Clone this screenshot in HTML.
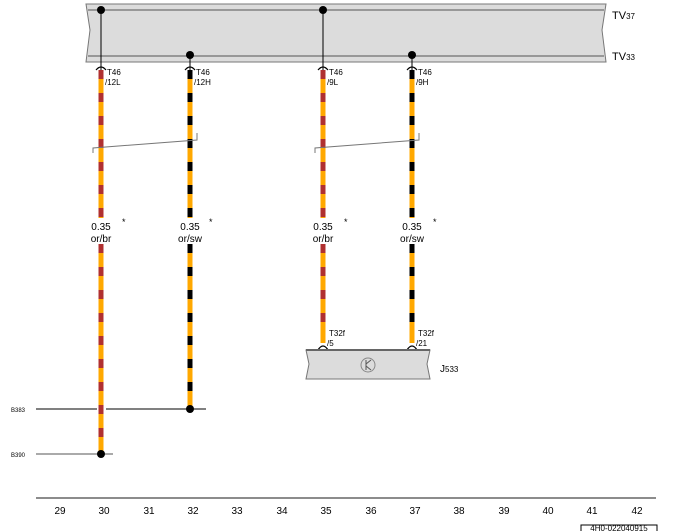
<!DOCTYPE html>
<html><head><style>html,body{margin:0;padding:0;background:#fff}svg{display:block}text{font-family:"Liberation Sans",sans-serif;fill:#000}</style></head>
<body>
<svg width="680" height="531" viewBox="0 0 680 531" xmlns="http://www.w3.org/2000/svg">
<!-- bus bar -->
<path d="M86,4 L606,4 L602,30 L606,62 L86,62 L90,30 Z" fill="#dcdcdc" stroke="#777" stroke-width="1"/>
<line x1="88" y1="10" x2="604" y2="10" stroke="#555" stroke-width="1"/>
<line x1="88" y1="56" x2="604" y2="56" stroke="#555" stroke-width="1"/>
<text x="612" y="19" font-size="11">TV<tspan font-size="8">37</tspan></text>
<text x="612" y="60" font-size="11">TV<tspan font-size="8">33</tspan></text>
<g stroke="#000" stroke-width="1">
<line x1="101" y1="10" x2="101" y2="70"/><line x1="323" y1="10" x2="323" y2="70"/>
<line x1="190" y1="55" x2="190" y2="70"/><line x1="412" y1="55" x2="412" y2="70"/>
</g>
<g fill="#000"><circle cx="101" cy="10" r="4"/><circle cx="323" cy="10" r="4"/><circle cx="190" cy="55" r="4"/><circle cx="412" cy="55" r="4"/></g>
<g fill="none" stroke="#000" stroke-width="1.2">
<path d="M96,70 Q101,64 106,70"/><path d="M185,70 Q190,64 195,70"/><path d="M318,70 Q323,64 328,70"/><path d="M407,70 Q412,64 417,70"/>
<path d="M318,350 Q323,342 328,350"/><path d="M407,350 Q412,342 417,350"/>
</g>
<g font-size="8">
<text x="107" y="75">T46</text><text x="105" y="85">/12L</text>
<text x="196" y="75">T46</text><text x="194" y="85">/12H</text>
<text x="329" y="75">T46</text><text x="327" y="85">/9L</text>
<text x="418" y="75">T46</text><text x="416" y="85">/9H</text>
<text x="329" y="336">T32f</text><text x="327" y="346">/5</text>
<text x="418" y="336">T32f</text><text x="416" y="346">/21</text>
</g>
<!-- wires -->
<g stroke-width="5">
<line x1="101" y1="70" x2="101" y2="218" stroke="#ffa800"/><line x1="101" y1="70" x2="101" y2="218" stroke="#b03030" stroke-dasharray="9,14"/>
<line x1="101" y1="244" x2="101" y2="454" stroke="#ffa800"/><line x1="101" y1="244" x2="101" y2="454" stroke="#b03030" stroke-dasharray="9,14"/>
<line x1="323" y1="70" x2="323" y2="218" stroke="#ffa800"/><line x1="323" y1="70" x2="323" y2="218" stroke="#b03030" stroke-dasharray="9,14"/>
<line x1="323" y1="244" x2="323" y2="343" stroke="#ffa800"/><line x1="323" y1="244" x2="323" y2="330" stroke="#b03030" stroke-dasharray="9,14"/>
<line x1="190" y1="70" x2="190" y2="218" stroke="#ffa800"/><line x1="190" y1="70" x2="190" y2="218" stroke="#000" stroke-dasharray="9,14"/>
<line x1="190" y1="244" x2="190" y2="409" stroke="#ffa800"/><line x1="190" y1="244" x2="190" y2="400" stroke="#000" stroke-dasharray="9,14"/>
<line x1="412" y1="70" x2="412" y2="218" stroke="#ffa800"/><line x1="412" y1="70" x2="412" y2="218" stroke="#000" stroke-dasharray="9,14"/>
<line x1="412" y1="244" x2="412" y2="343" stroke="#ffa800"/><line x1="412" y1="244" x2="412" y2="330" stroke="#000" stroke-dasharray="9,14"/>
</g>
<!-- twist marks -->
<g fill="none" stroke="#777" stroke-width="1">
<path d="M93,153 L93,148 L197,140 L197,133"/>
<path d="M315,153 L315,148 L419,140 L419,133"/>
</g>
<g font-size="10" text-anchor="middle">
<text x="101" y="230">0.35</text><text x="101" y="242">or/br</text>
<text x="190" y="230">0.35</text><text x="190" y="242">or/sw</text>
<text x="323" y="230">0.35</text><text x="323" y="242">or/br</text>
<text x="412" y="230">0.35</text><text x="412" y="242">or/sw</text>
</g>
<g font-size="9"><text x="122" y="225">*</text><text x="209" y="225">*</text><text x="344" y="225">*</text><text x="433" y="225">*</text></g>
<!-- J533 -->
<path d="M306,350 L430,350 L427,364 L430,379 L306,379 L309,364 Z" fill="#dcdcdc" stroke="#777"/>
<line x1="306" y1="350" x2="430" y2="350" stroke="#666" stroke-width="2"/>
<circle cx="368" cy="365" r="7" fill="none" stroke="#888"/>
<path d="M366,360 L366,370 M366,364 L371,360 M366,366 L371,370" stroke="#555" fill="none"/>
<text x="440" y="372" font-size="10">J<tspan font-size="8">533</tspan></text>
<!-- B lines -->
<line x1="36" y1="409" x2="97" y2="409" stroke="#000"/>
<line x1="106" y1="409" x2="206" y2="409" stroke="#000"/>
<circle cx="190" cy="409" r="4" fill="#000"/>
<line x1="36" y1="454" x2="113" y2="454" stroke="#555"/>
<circle cx="101" cy="454" r="4" fill="#000"/>
<text x="11" y="412" font-size="6">B383</text>
<text x="11" y="457" font-size="6">B390</text>
<!-- footer -->
<line x1="36" y1="498" x2="656" y2="498" stroke="#666" stroke-width="1.5"/>
<g font-size="10" text-anchor="middle">
<text x="60" y="514">29</text><text x="104" y="514">30</text><text x="149" y="514">31</text><text x="193" y="514">32</text><text x="237" y="514">33</text><text x="282" y="514">34</text><text x="326" y="514">35</text><text x="371" y="514">36</text><text x="415" y="514">37</text><text x="459" y="514">38</text><text x="504" y="514">39</text><text x="548" y="514">40</text><text x="592" y="514">41</text><text x="637" y="514">42</text>
</g>
<path d="M581,531 L581,525 L657,525 L657,531" fill="none" stroke="#000"/>
<text x="619" y="531" font-size="8" text-anchor="middle">4H0-022040915</text>
</svg>
</body></html>
